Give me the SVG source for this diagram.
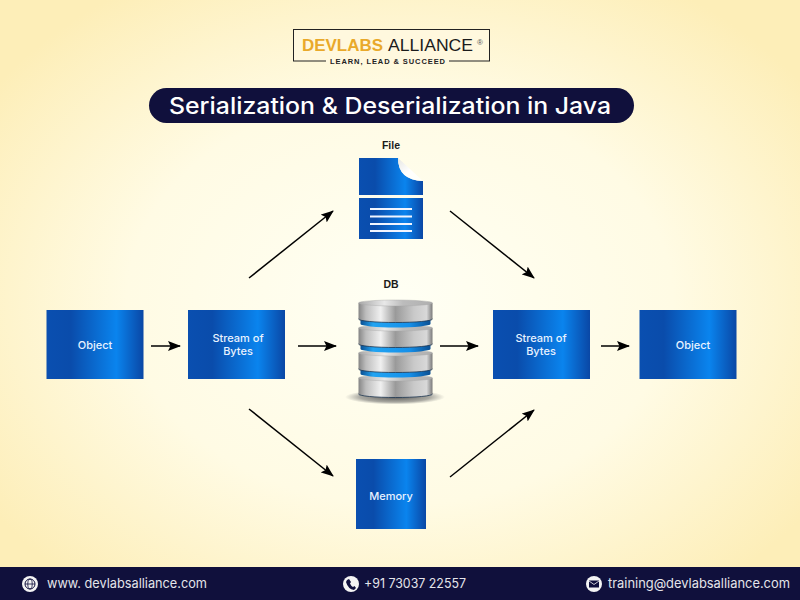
<svg xmlns="http://www.w3.org/2000/svg" width="800" height="600" viewBox="0 0 800 600">
<defs>
<radialGradient id="bg" cx="50%" cy="50%" r="62%">
<stop offset="0" stop-color="#fffff4"/><stop offset="0.55" stop-color="#fffbe4"/><stop offset="1" stop-color="#fdeeb8"/>
</radialGradient>
<linearGradient id="blue" x1="0" y1="0" x2="1" y2="0">
<stop offset="0" stop-color="#0a4fb0"/><stop offset="0.25" stop-color="#0a4cab"/><stop offset="0.72" stop-color="#0a84ee"/><stop offset="1" stop-color="#0a47a5"/>
</linearGradient>
<linearGradient id="metal" x1="0" y1="0" x2="1" y2="0">
<stop offset="0" stop-color="#858585"/><stop offset="0.1" stop-color="#bdbdbd"/><stop offset="0.3" stop-color="#f0f0f0"/><stop offset="0.5" stop-color="#9a9a9a"/><stop offset="0.75" stop-color="#c9c9c9"/><stop offset="0.92" stop-color="#d8d8d8"/><stop offset="1" stop-color="#7a7a7a"/>
</linearGradient>
<linearGradient id="rim" x1="0" y1="0" x2="1" y2="0">
<stop offset="0" stop-color="#a8a8a8"/><stop offset="0.35" stop-color="#e8e8e8"/><stop offset="0.6" stop-color="#bcbcbc"/><stop offset="1" stop-color="#b0b0b0"/>
</linearGradient>
<linearGradient id="band" x1="0" y1="0" x2="1" y2="0">
<stop offset="0" stop-color="#0b4f92"/><stop offset="0.18" stop-color="#22a4f2"/><stop offset="0.7" stop-color="#1590ea"/><stop offset="1" stop-color="#0b4f92"/>
</linearGradient>
<linearGradient id="fold" x1="0" y1="0" x2="1" y2="1">
<stop offset="0" stop-color="#e6e6e2"/><stop offset="0.5" stop-color="#ffffff"/><stop offset="1" stop-color="#fffff6"/>
</linearGradient>
<radialGradient id="shadow"><stop offset="0" stop-color="#444" stop-opacity="0.9"/><stop offset="0.7" stop-color="#666" stop-opacity="0.55"/><stop offset="1" stop-color="#777" stop-opacity="0"/></radialGradient>
<marker id="ah" markerWidth="13" markerHeight="10" refX="12" refY="5" orient="auto" markerUnits="userSpaceOnUse"><path d="M0 0L13 5L0 10L2.500 5Z" fill="#000"/></marker>
<g id="disk">
<path d="M-37 0V16A37 3.500 0 0 0 37 16V0Z" fill="url(#metal)"/>
<path d="M-37 16A37 3.500 0 0 0 37 16" fill="none" stroke="#1c3550" stroke-width="0.800"/>
<ellipse cx="0" cy="0" rx="37" ry="3" fill="url(#rim)" stroke="#a5a5a5" stroke-width="0.400"/>
</g>
<path id="ring" class="band" d="M-35 0V6A35 3.500 0 0 0 35 6V0Z"/>
</defs>
<style>
.box{fill:url(#blue)}
.lbl{font-family:"Inter","Open Sans","Liberation Sans",sans-serif;font-size:11px;font-weight:500;fill:#e8f2ff;text-anchor:middle}
.cap{font-family:"Liberation Sans",sans-serif;font-size:10.500px;font-weight:700;fill:#1a1a1a;text-anchor:middle}
.ft{font-family:"Inter","Open Sans","Liberation Sans",sans-serif;font-size:13px;fill:#e4e4ea}
.conn{stroke:#000;stroke-width:1.500;fill:none;marker-end:url(#ah)}
.wl{stroke:#f0f5ff;stroke-width:1.800}
.band{fill:url(#band)}
</style>
<rect width="800" height="600" fill="url(#bg)"/>

<g id="logo">
<rect x="293.500" y="29.500" width="196" height="31.500" fill="#fff8de" stroke="#222" stroke-width="1"/>
<rect x="326" y="56" width="123" height="8" fill="#fff8de"/>
<text x="302" y="51" font-family="Liberation Sans,sans-serif" font-size="17" font-weight="700" fill="#e9a92a" textLength="81" lengthAdjust="spacingAndGlyphs">DEVLABS</text>
<text x="388" y="51" font-family="Liberation Sans,sans-serif" font-size="17" fill="#1b1b1b" textLength="85" lengthAdjust="spacingAndGlyphs">ALLIANCE</text>
<text x="477" y="45" font-family="Liberation Sans,sans-serif" font-size="8" fill="#555">®</text>
<text x="330" y="63.500" font-family="Liberation Sans,sans-serif" font-size="7.500" font-weight="700" fill="#222" textLength="115" lengthAdjust="spacing">LEARN, LEAD &amp; SUCCEED</text>
</g>

<g id="title">
<rect x="149" y="88" width="485" height="35" rx="17.500" fill="#10103c"/>
<text x="390" y="114" font-family="Inter,Open Sans,Liberation Sans,sans-serif" font-size="22.500" font-weight="500" fill="#fff" text-anchor="middle" textLength="442" lengthAdjust="spacingAndGlyphs">Serialization &amp; Deserialization in Java</text>
</g>

<g id="connectors">
<line class="conn" x1="151" y1="346" x2="180" y2="346"/>
<line class="conn" x1="298" y1="346" x2="336" y2="346"/>
<line class="conn" x1="249" y1="278" x2="333" y2="211"/>
<line class="conn" x1="249" y1="409" x2="333" y2="476"/>
<line class="conn" x1="440" y1="346" x2="478" y2="346"/>
<line class="conn" x1="450" y1="211" x2="534" y2="278"/>
<line class="conn" x1="450" y1="477" x2="534" y2="410"/>
<line class="conn" x1="601" y1="346" x2="629" y2="346"/>
</g>

<g id="object-left">
<rect class="box" x="46.500" y="310" width="97" height="69"/>
<text class="lbl" x="95" y="349">Object</text>
</g>
<g id="stream-left">
<rect class="box" x="188" y="310" width="97" height="69"/>
<text class="lbl" x="238" y="342">Stream of</text>
<text class="lbl" x="238" y="355">Bytes</text>
</g>
<g id="file">
<text class="cap" x="391" y="149">File</text>
<path class="box" d="M359 158H398Q398 180 423 181V195H359Z"/>
<path d="M398 158L423 181Q398 180 398 158Z" fill="url(#fold)"/>
<rect class="box" x="359" y="198" width="64" height="41"/>
<line class="wl" x1="370" y1="209" x2="412" y2="209"/>
<line class="wl" x1="370" y1="216.500" x2="412" y2="216.500"/>
<line class="wl" x1="370" y1="224" x2="412" y2="224"/>
<line class="wl" x1="370" y1="231" x2="412" y2="231"/>
</g>
<g id="db">
<text class="cap" x="391" y="288">DB</text>
<ellipse cx="395" cy="397" rx="50" ry="7.500" fill="url(#shadow)"/>
<use href="#disk" x="395.500" y="378"/>
<use href="#ring" x="395.500" y="368"/>
<use href="#disk" x="395.500" y="353"/>
<use href="#ring" x="395.500" y="343"/>
<use href="#disk" x="395.500" y="328"/>
<use href="#ring" x="395.500" y="318"/>
<use href="#disk" x="395.500" y="303"/>
</g>
<g id="memory">
<rect class="box" x="356" y="459" width="70" height="70"/>
<text class="lbl" x="391" y="500">Memory</text>
</g>
<g id="stream-right">
<rect class="box" x="493" y="310" width="97" height="69"/>
<text class="lbl" x="541" y="342">Stream of</text>
<text class="lbl" x="541" y="355">Bytes</text>
</g>
<g id="object-right">
<rect class="box" x="639.500" y="310" width="97" height="69"/>
<text class="lbl" x="693" y="349">Object</text>
</g>

<g id="footer">
<rect y="567" width="800" height="33" fill="#10103c"/>
<circle cx="30" cy="584" r="8" fill="#f4f4f4"/>
<circle cx="30" cy="584" r="5" fill="none" stroke="#10103c" stroke-width="1"/>
<ellipse cx="30" cy="584" rx="2.200" ry="5" fill="none" stroke="#10103c" stroke-width="0.800"/>
<path d="M25 584H35" stroke="#10103c" stroke-width="0.800"/>
<text class="ft" x="47" y="588" textLength="160" lengthAdjust="spacingAndGlyphs">www. devlabsalliance.com</text>
<circle cx="351" cy="584" r="8" fill="#f4f4f4"/>
<path d="M347 580L349 579L351 582L350 583.500Q351 586 353 587L354.500 586L356 588L354 590Q348 589 346 582Z" fill="#10103c"/>
<text class="ft" x="364" y="588" textLength="102" lengthAdjust="spacingAndGlyphs">+91 73037 22557</text>
<circle cx="594" cy="584" r="8" fill="#f4f4f4"/>
<rect x="589" y="580.500" width="10" height="7" fill="#10103c"/>
<path d="M589 581L594 584.500L599 581" fill="none" stroke="#f4f4f4" stroke-width="0.800"/>
<text class="ft" x="608" y="588" textLength="182" lengthAdjust="spacingAndGlyphs">training@devlabsalliance.com</text>
</g>
</svg>
